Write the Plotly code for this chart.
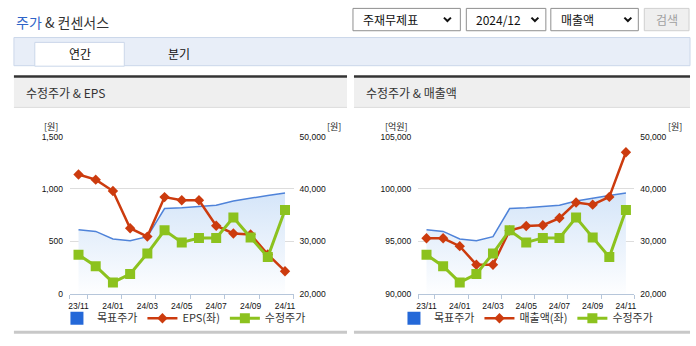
import plotly.graph_objects as go

# ---------------- data ----------------
months = ["23/11", "23/12", "24/01", "24/02", "24/03", "24/04", "24/05",
          "24/06", "24/07", "24/08", "24/09", "24/10", "24/11"]
target_price = [32200, 31900, 30450, 30100, 30900, 36250, 36400, 36650,
                36900, 37700, 38300, 38770, 39250]
adj_price = [27450, 25250, 22150, 23750, 27700, 32100, 29800, 30650,
             30650, 34550, 30750, 27000, 36000]
eps = [1138, 1089, 980, 625, 545, 922, 892, 892, 649, 575, 565, 375, 215]
revenue = [95290, 95290, 94540, 92770, 92770, 96040, 96470, 96535,
           97220, 98710, 98500, 99240, 103510]

idx = list(range(len(months)))
label_idx = idx[::2]
label_txt = [months[i] for i in label_idx]
minor_ticks = [label_idx[0] - 0.5] + [i + 0.5 for i in label_idx]

W, H = 696, 346
def X(px):
    return px / W
def Y(py):
    return 1 - py / H

KR = "Noto Sans CJK KR"
NUM = "Liberation Sans"
RED = "#cc3b0e"
GREEN = "#8cc21e"
BLUE_LINE = "#4f83d9"
BLUE_SQ = "#2468d8"
AXIS_C = "#b6c6da"

fig = go.Figure()

def add_panel(xa, ya_base, ya_left, ya_top, left_vals, left_name, legend_id):
    fig.add_trace(go.Scatter(x=[None], y=[None], mode="markers", name="목표주가",
                             marker=dict(symbol="square", size=13, color=BLUE_SQ),
                             xaxis=xa, yaxis=ya_base, legend=legend_id))
    fig.add_trace(go.Scatter(x=idx, y=target_price, mode="lines", name="목표주가",
                             line=dict(color=BLUE_LINE, width=1.5),
                             fill="tozeroy",
                             fillgradient=dict(type="vertical", start=20000, stop=39000,
                                               colorscale=[[0, "rgba(255,255,255,1)"],
                                                           [1, "rgba(214,230,249,1)"]]),
                             showlegend=False, hoverinfo="skip",
                             xaxis=xa, yaxis=ya_base))
    fig.add_trace(go.Scatter(x=idx, y=left_vals, mode="lines+markers", name=left_name,
                             line=dict(color=RED, width=2.5),
                             marker=dict(symbol="diamond", size=8, color=RED),
                             xaxis=xa, yaxis=ya_left, legend=legend_id))
    fig.add_trace(go.Scatter(x=idx, y=adj_price, mode="lines+markers", name="수정주가",
                             line=dict(color=GREEN, width=3),
                             marker=dict(symbol="square", size=10, color=GREEN),
                             xaxis=xa, yaxis=ya_top, legend=legend_id))

add_panel("x", "y", "y2", "y3", eps, "EPS(좌)", "legend")
add_panel("x2", "y4", "y5", "y6", revenue, "매출액(좌)", "legend2")

ydom = [Y(297.3), Y(135.5)]
tickfont = dict(family=NUM, size=8.5, color="#111")

def xaxis_cfg(dom, anchor):
    return dict(domain=dom, anchor=anchor, range=[-0.5, len(months) - 0.5],
                tickmode="array", tickvals=label_idx, ticktext=label_txt,
                ticks="", showline=True, linecolor=AXIS_C, linewidth=1,
                showgrid=False, zeroline=False, tickfont=tickfont,
                ticklabelstandoff=4,
                minor=dict(tickmode="array", tickvals=minor_ticks, ticks="outside",
                           ticklen=4, tickcolor=AXIS_C, tickwidth=1, showgrid=False))

def price_axis(anchor):
    return dict(domain=ydom, anchor=anchor, side="right", range=[20000, 50000],
                dtick=10000, tickformat=",", showgrid=True, gridcolor="#dddddd",
                gridwidth=1, zeroline=False, showline=False, tickfont=tickfont,
                ticklabelstandoff=5)

legend_common = dict(orientation="h", xanchor="center", yanchor="middle",
                     font=dict(family=KR, size=11, color="#333"),
                     bgcolor="rgba(0,0,0,0)", itemwidth=30, tracegroupgap=0)

fig.update_layout(
    width=W, height=H, autosize=False,
    margin=dict(l=0, r=0, t=0, b=0),
    paper_bgcolor="white", plot_bgcolor="white",
    xaxis=xaxis_cfg([X(68.3), X(293.3)], "y"),
    xaxis2=xaxis_cfg([X(418.6), X(635.9)], "y4"),
    yaxis=price_axis("x"),
    yaxis2=dict(overlaying="y", anchor="x", side="left", range=[0, 1500], dtick=500,
                tickformat=",", showgrid=False, zeroline=False, tickfont=tickfont,
                ticklabelstandoff=6),
    yaxis3=dict(overlaying="y", anchor="x", range=[20000, 50000], visible=False),
    yaxis4=price_axis("x2"),
    yaxis5=dict(overlaying="y4", anchor="x2", side="left", range=[90000, 105000],
                dtick=5000, tickformat=",", showgrid=False, zeroline=False,
                tickfont=tickfont, ticklabelstandoff=6),
    yaxis6=dict(overlaying="y4", anchor="x2", range=[20000, 50000], visible=False),
    legend=dict(x=X(183), y=Y(322.5), **legend_common),
    legend2=dict(x=X(527), y=Y(322.5), **legend_common),
    showlegend=True,
)

shapes = []
anns = []

def rect(x0, y0, x1, y1, fill, line=None, lw=1):
    shapes.append(dict(type="rect", xref="paper", yref="paper", x0=X(x0), x1=X(x1),
                       y0=Y(y1), y1=Y(y0), fillcolor=fill,
                       line=dict(color=line if line else fill, width=lw if line else 0),
                       layer="below"))

def hline(x0, x1, y, color, w):
    shapes.append(dict(type="line", xref="paper", yref="paper", x0=X(x0), x1=X(x1),
                       y0=Y(y), y1=Y(y), line=dict(color=color, width=w)))

def text(x, y, t, size=12, color="#333", xanchor="left", family=KR):
    anns.append(dict(xref="paper", yref="paper", x=X(x), y=Y(y), text=t, showarrow=False,
                     xanchor=xanchor, yanchor="middle",
                     font=dict(family=family, size=size, color=color)))

def chevron(cx, cy):
    shapes.append(dict(type="path", xref="paper", yref="paper",
                       path=f"M {X(cx-3.5)},{Y(cy-2)} L {X(cx)},{Y(cy+1.5)} L {X(cx+3.5)},{Y(cy-2)}",
                       line=dict(color="#111", width=2)))

# page title
anns.append(dict(xref="paper", yref="paper", x=X(12), y=Y(18), showarrow=False,
                 xanchor="left", yanchor="middle",
                 text="<span style='color:#2f64c8'>주가</span> & 컨센서스",
                 font=dict(family=KR, size=14, color="#333")))

# dropdowns
for (x0, x1, label, chev) in [(353, 461, "주재무제표", 448), (467, 547, "2024/12", 536),
                               (552, 640, "매출액", 629.5)]:
    rect(x0, 3.5, x1, 26.5, "white", "#8f8f8f", 1)
    text(x0 + 8, 15, label, size=12, color="#111")
    chevron(chev, 15)
rect(646, 3.5, 691, 26.5, "#efefef", "#cfcfcf", 1)
text(668.5, 15, "검색", size=12, color="#a0a0a0", xanchor="center")

# tabs
rect(12, 33.5, 692, 62.5, "#e8eef8", "#cbd7ea", 1)
rect(33, 38.5, 123, 63, "white", "#cbd7ea", 1)
text(78, 50, "연간", size=12, color="#111", xanchor="center")
text(178, 50, "분기", size=12, color="#111", xanchor="center")

# panel headers
for (x0, x1, title) in [(12, 347, "수정주가 & EPS"), (354, 692, "수정주가 & 매출액")]:
    rect(x0, 75, x1, 105, "#efefef")
    hline(x0, x1, 73.7, "#333333", 2.5)
    hline(x0, x1, 105.5, "#dddddd", 1)
    hline(x0, x1, 337, "#c8c8c8", 3)
    text(x0 + 10, 90, title, size=12, color="#333")

# unit labels
text(58, 125.5, "[원]", size=9, color="#222", xanchor="right")
text(343, 125.5, "[원]", size=9, color="#222", xanchor="right")
text(410.5, 125.5, "[억원]", size=9, color="#222", xanchor="right")
text(686, 125.5, "[원]", size=9, color="#222", xanchor="right")

fig.update_layout(shapes=shapes, annotations=anns)
fig.write_html("out.html")
